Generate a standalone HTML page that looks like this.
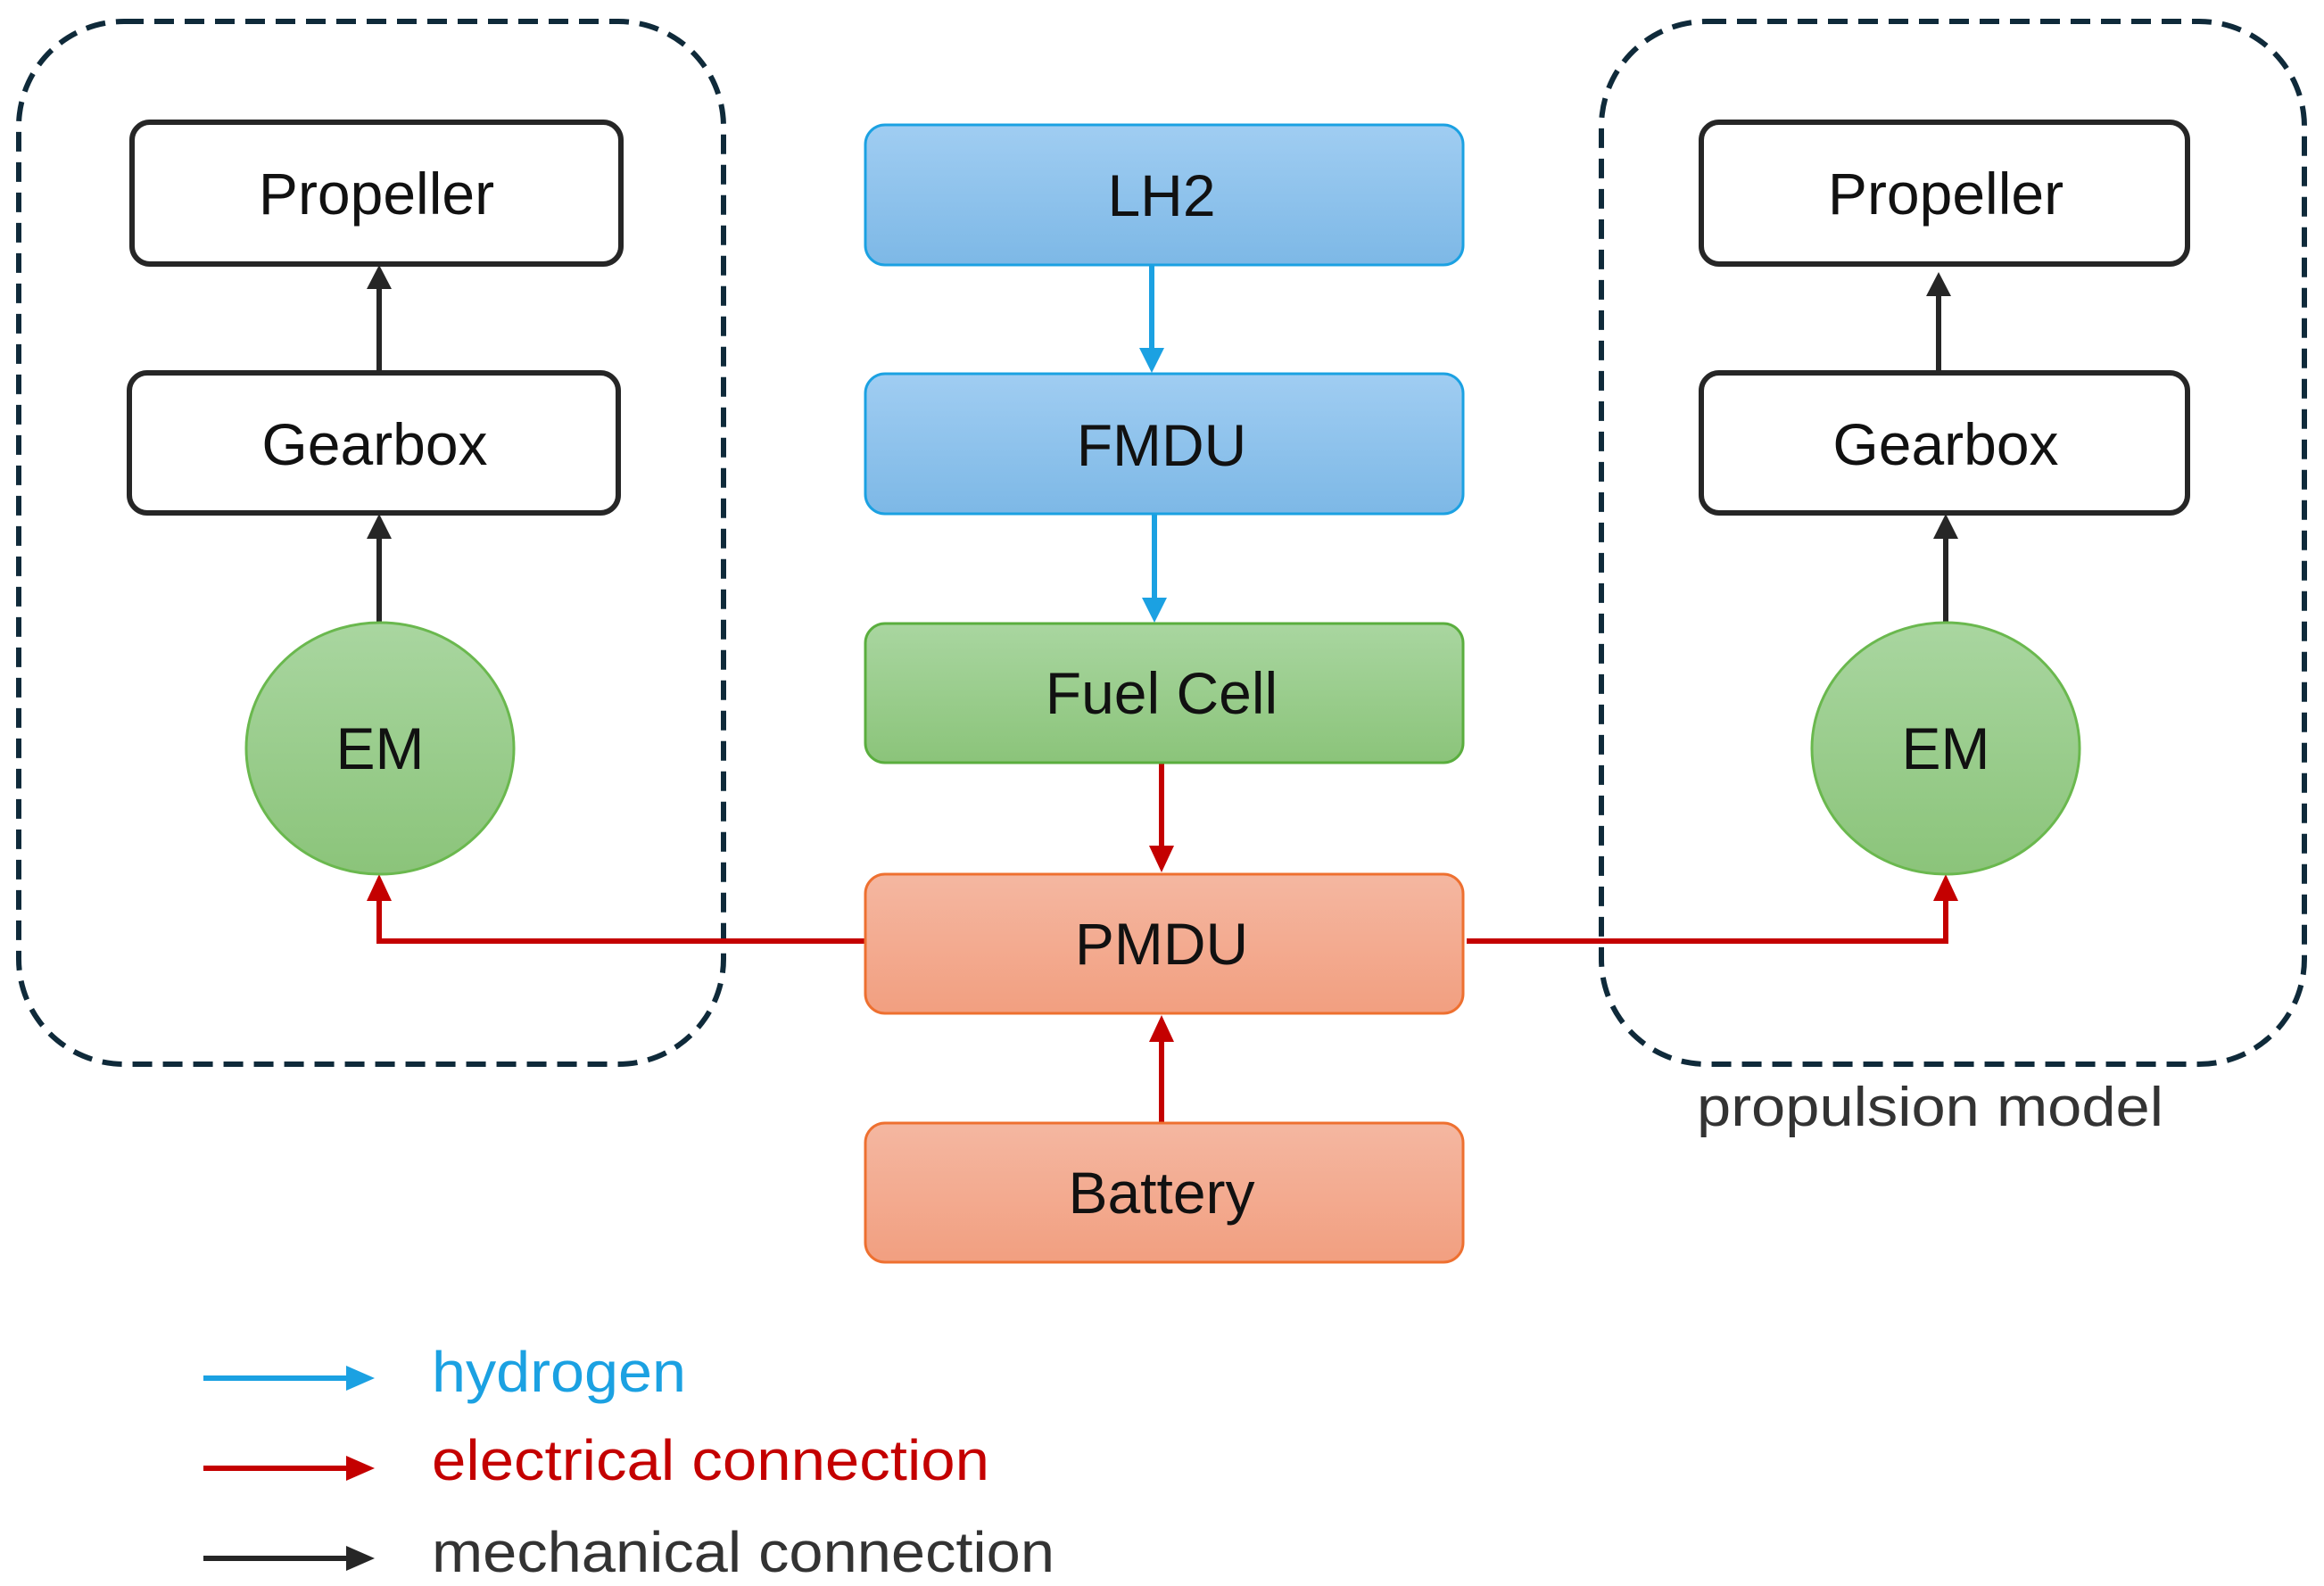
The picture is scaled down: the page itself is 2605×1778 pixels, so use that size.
<!DOCTYPE html>
<html><head><meta charset="utf-8"><style>html,body{margin:0;padding:0;background:#fff}svg{display:block}</style></head>
<body>
<svg width="2605" height="1778" viewBox="0 0 2605 1778" xmlns="http://www.w3.org/2000/svg" font-family="Liberation Sans, sans-serif">
<defs>
<linearGradient id="gb" x1="0" y1="0" x2="0" y2="1"><stop offset="0" stop-color="#a0cdf2"/><stop offset="1" stop-color="#7db8e6"/></linearGradient>
<linearGradient id="gg" x1="0" y1="0" x2="0" y2="1"><stop offset="0" stop-color="#a9d6a0"/><stop offset="1" stop-color="#8bc47a"/></linearGradient>
<linearGradient id="go" x1="0" y1="0" x2="0" y2="1"><stop offset="0" stop-color="#f4b7a1"/><stop offset="1" stop-color="#f29f80"/></linearGradient>
</defs>
<rect x="21" y="24" width="790" height="1169" rx="118" fill="none" stroke="#0f2a3a" stroke-width="6" stroke-dasharray="22 12"/>
<rect x="1795" y="24" width="788" height="1169" rx="118" fill="none" stroke="#0f2a3a" stroke-width="6" stroke-dasharray="22 12"/>
<text x="1902" y="1262" font-size="62" fill="#333" textLength="523" lengthAdjust="spacingAndGlyphs">propulsion model</text>

<g stroke="#c40000" stroke-width="6" fill="none">
<polyline points="970,1055 425,1055 425,1008"/>
<polyline points="1644,1055 2181,1055 2181,1008"/>
<line x1="1302" y1="855" x2="1302" y2="950"/>
<line x1="1302" y1="1259" x2="1302" y2="1166"/>
</g>
<g fill="#c40000">
<polygon points="411,1010 439,1010 425,980"/>
<polygon points="2167,1010 2195,1010 2181,980"/>
<polygon points="1288,948 1316,948 1302,978"/>
<polygon points="1288,1168 1316,1168 1302,1138"/>
</g>
<g stroke="#1ba1e2" stroke-width="6"><line x1="1291" y1="297" x2="1291" y2="392"/><line x1="1294" y1="576" x2="1294" y2="672"/></g>
<g fill="#1ba1e2"><polygon points="1277,390 1305,390 1291,418"/><polygon points="1280,670 1308,670 1294,698"/></g>
<g stroke="#262626" stroke-width="6"><line x1="425" y1="417" x2="425" y2="322"/><line x1="425" y1="698" x2="425" y2="602"/><line x1="2173" y1="417" x2="2173" y2="330"/><line x1="2181" y1="698" x2="2181" y2="602"/></g>
<g fill="#262626"><polygon points="411,324 439,324 425,297"/><polygon points="411,604 439,604 425,576"/><polygon points="2159,332 2187,332 2173,305"/><polygon points="2167,604 2195,604 2181,576"/></g>

<rect x="148" y="137" width="548" height="159" rx="20" fill="#fff" stroke="#262626" stroke-width="6"/>
<rect x="145" y="418" width="548" height="157" rx="20" fill="#fff" stroke="#262626" stroke-width="6"/>
<ellipse cx="426" cy="839" rx="150" ry="141" fill="url(#gg)" stroke="#6ab84e" stroke-width="3"/>
<rect x="1907" y="137" width="545" height="159" rx="20" fill="#fff" stroke="#262626" stroke-width="6"/>
<rect x="1907" y="418" width="545" height="157" rx="20" fill="#fff" stroke="#262626" stroke-width="6"/>
<ellipse cx="2181" cy="839" rx="150" ry="141" fill="url(#gg)" stroke="#6ab84e" stroke-width="3"/>
<rect x="970" y="140" width="670" height="157" rx="22" fill="url(#gb)" stroke="#1ba1e2" stroke-width="3"/>
<rect x="970" y="419" width="670" height="157" rx="22" fill="url(#gb)" stroke="#1ba1e2" stroke-width="3"/>
<rect x="970" y="699" width="670" height="156" rx="22" fill="url(#gg)" stroke="#5aae3e" stroke-width="3"/>
<rect x="970" y="980" width="670" height="156" rx="22" fill="url(#go)" stroke="#ee7030" stroke-width="3"/>
<rect x="970" y="1259" width="670" height="156" rx="22" fill="url(#go)" stroke="#ee7030" stroke-width="3"/>

<g font-size="66" fill="#111" text-anchor="middle">
<text x="422" y="240">Propeller</text>
<text x="420" y="521">Gearbox</text>
<text x="426" y="862">EM</text>
<text x="2181" y="240">Propeller</text>
<text x="2181" y="521">Gearbox</text>
<text x="2181" y="862">EM</text>
<text x="1302" y="242">LH2</text>
<text x="1302" y="522">FMDU</text>
<text x="1302" y="800">Fuel Cell</text>
<text x="1302" y="1081">PMDU</text>
<text x="1302" y="1360">Battery</text>
</g>

<line x1="228" y1="1545" x2="392" y2="1545" stroke="#1ba1e2" stroke-width="6"/>
<polygon points="388,1531 420,1545 388,1559" fill="#1ba1e2"/>
<line x1="228" y1="1646" x2="392" y2="1646" stroke="#c40000" stroke-width="6"/>
<polygon points="388,1632 420,1646 388,1660" fill="#c40000"/>
<line x1="228" y1="1747" x2="392" y2="1747" stroke="#262626" stroke-width="6"/>
<polygon points="388,1733 420,1747 388,1761" fill="#262626"/>
<text x="484" y="1560" font-size="64" fill="#1ba1e2" textLength="285" lengthAdjust="spacingAndGlyphs">hydrogen</text>
<text x="484" y="1659" font-size="64" fill="#c40000" textLength="625" lengthAdjust="spacingAndGlyphs">electrical connection</text>
<text x="484" y="1762" font-size="64" fill="#333" textLength="698" lengthAdjust="spacingAndGlyphs">mechanical connection</text>
</svg>
</body></html>
